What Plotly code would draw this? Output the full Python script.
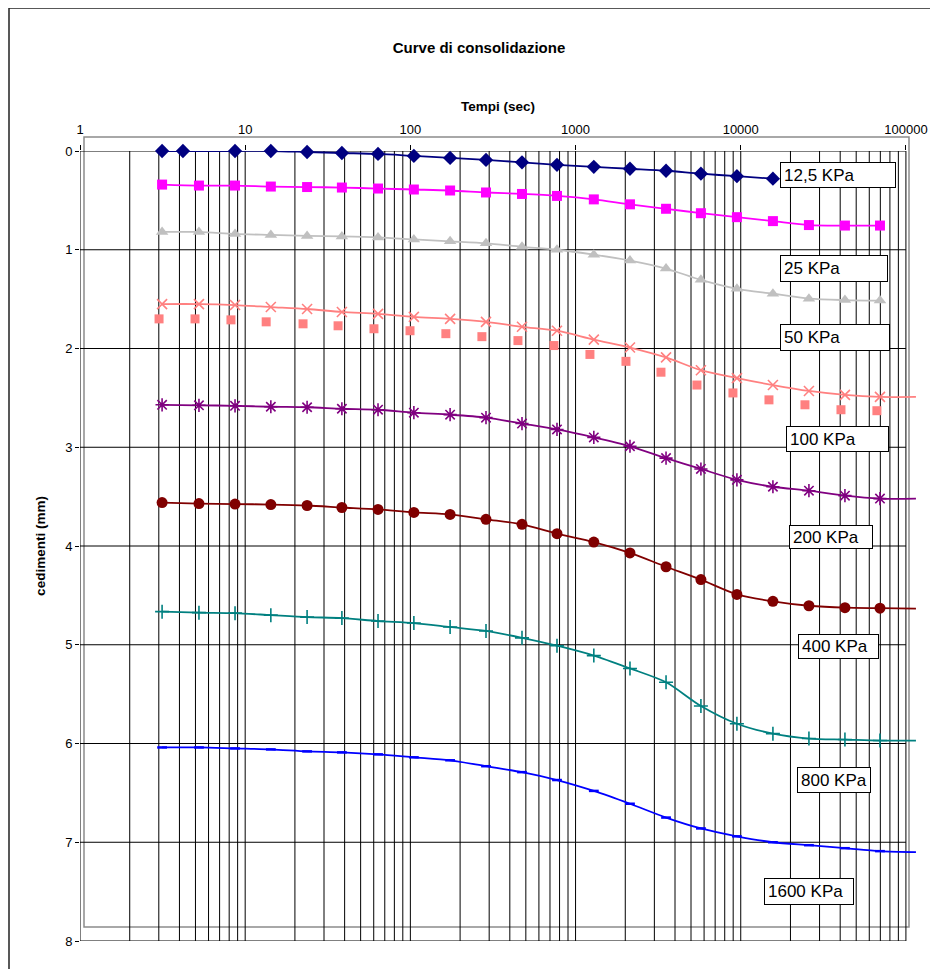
import plotly.graph_objects as go

# ---------------- data ----------------
# times (s) of the readings
T = [3.14, 5.25, 8.68, 14.3, 23.7, 38.5, 63.7, 105, 174, 287, 474, 772,
     1290, 2135, 3530, 5740, 9480, 15660, 25870, 42740, 69640]
T_12 = [3.14, 4.2, 8.68, 14.3, 23.7, 38.5, 63.7, 105, 174, 287, 474, 772,
        1290, 2135, 3530, 5740, 9480, 15660]
T_SQ = [3.01, 4.97, 8.2, 13.4, 22.4, 36.5, 60.2, 99.5, 164, 271, 448, 740,
        1222, 2019, 3289, 5430, 8970, 14820, 24480, 40440, 66730]
T_END = 115000

# settlements (mm)
S_12_5 = [0.0, 0.0, 0.0, 0.0, 0.01, 0.02, 0.03, 0.05, 0.07, 0.09, 0.115, 0.14,
          0.16, 0.18, 0.20, 0.23, 0.255, 0.28]
S_MAG = [0.34, 0.35, 0.35, 0.36, 0.365, 0.37, 0.38, 0.39, 0.40, 0.42, 0.435, 0.455,
         0.49, 0.54, 0.585, 0.63, 0.67, 0.71, 0.75, 0.755, 0.755]
S_GRAY = [0.82, 0.82, 0.84, 0.85, 0.86, 0.865, 0.875, 0.895, 0.915, 0.935, 0.97, 1.0,
          1.05, 1.11, 1.19, 1.305, 1.395, 1.445, 1.495, 1.51, 1.515]
S_X = [1.55, 1.55, 1.56, 1.58, 1.60, 1.63, 1.65, 1.68, 1.70, 1.73, 1.78, 1.82,
       1.91, 1.99, 2.09, 2.22, 2.30, 2.37, 2.43, 2.47, 2.49]
S_X_END = 2.49
S_SQ = [1.70, 1.70, 1.71, 1.73, 1.75, 1.77, 1.80, 1.82, 1.85, 1.88, 1.92, 1.97,
        2.06, 2.13, 2.24, 2.37, 2.45, 2.52, 2.57, 2.62, 2.63]
S_STAR = [2.57, 2.575, 2.58, 2.59, 2.595, 2.61, 2.62, 2.65, 2.67, 2.70, 2.76, 2.82,
          2.90, 2.99, 3.11, 3.22, 3.33, 3.40, 3.44, 3.49, 3.52]
S_STAR_END = 3.52
S_CIRC = [3.56, 3.57, 3.575, 3.58, 3.59, 3.61, 3.63, 3.66, 3.68, 3.73, 3.78, 3.875,
          3.96, 4.07, 4.21, 4.34, 4.49, 4.56, 4.605, 4.625, 4.63]
S_CIRC_END = 4.635
S_PLUS = [4.665, 4.675, 4.68, 4.70, 4.72, 4.73, 4.76, 4.78, 4.82, 4.86, 4.93, 5.01,
          5.11, 5.24, 5.38, 5.62, 5.80, 5.90, 5.95, 5.96, 5.97]
S_PLUS_END = 5.97
S_DASH = [6.04, 6.04, 6.05, 6.06, 6.08, 6.09, 6.11, 6.14, 6.17, 6.23, 6.29, 6.37,
          6.48, 6.61, 6.75, 6.86, 6.94, 7.0, 7.03, 7.06, 7.09]
S_DASH_END = 7.10

X_TICKS = [1, 10, 100, 1000, 10000, 100000]
X_TICKTEXT = ["1", "10", "100", "1000", "10000", "100000"]
Y_TICKS = [0, 1, 2, 3, 4, 5, 6, 7, 8]
LABELS = ["12,5 KPa", "25 KPa", "50 KPa", "100 KPa", "200 KPa", "400 KPa",
          "800 KPa", "1600 KPa"]

# ---------------- figure ----------------
W, H = 938, 969
OFF = 8                      # page body margin
PW, PH = 836, 790
ML, MT = 80 - OFF, 151 - OFF
MR, MB = W - ML - PW, H - MT - PH
FONT = "Arial, Liberation Sans, sans-serif"


def px_x(px):
    return (px - OFF - ML) / PW


def px_y(py):
    return (MT + PH - (py - OFF)) / PH


fig = go.Figure()

# grid lines (drawn through the axes)
grid_x = [m * 10 ** k for k in range(5) for m in range(1, 10)] + [100000]
gx, gy = [], []
for v in grid_x:
    gx += [v, v, None]
    gy += [0, 8, None]
for v in Y_TICKS:
    gx += [1, 100000, None]
    gy += [v, v, None]
fig.add_trace(go.Scatter(x=gx, y=gy, mode="lines",
                         line=dict(color="#000000", width=1),
                         hoverinfo="skip", showlegend=False))


def add_series(t, s, color, symbol, size, mline=0, end=None, width=1.8):
    lx = list(t) + ([T_END] if end is not None else [])
    ly = list(s) + ([end] if end is not None else [])
    fig.add_trace(go.Scatter(x=lx, y=ly, mode="lines",
                             line=dict(color=color, width=width, shape="spline", smoothing=0.8),
                             hoverinfo="skip", showlegend=False))
    fig.add_trace(go.Scatter(x=t, y=s, mode="markers", cliponaxis=False,
                             marker=dict(color=color, symbol=symbol, size=size,
                                         line=dict(color=color, width=mline)),
                             showlegend=False))


add_series(T_12, S_12_5, "#000080", "diamond", 11)
add_series(T, S_MAG, "#FF00FF", "square", 10)
add_series(T, S_GRAY, "#C0C0C0", "triangle-up", 11)
add_series(T, S_X, "#FF8080", "x-thin", 10, mline=1.6, end=S_X_END)
fig.add_trace(go.Scatter(x=T_SQ, y=S_SQ, mode="markers",
                         marker=dict(color="#FF8080", symbol="square", size=9),
                         showlegend=False))
add_series(T, S_STAR, "#800080", "asterisk", 11, mline=1.6, end=S_STAR_END)
add_series(T, S_CIRC, "#800000", "circle", 11, end=S_CIRC_END)
add_series(T, S_PLUS, "#008080", "cross-thin", 10, mline=1.6, end=S_PLUS_END)
add_series(T, S_DASH, "#0000FF", "line-ew", 7, mline=2.5, end=S_DASH_END)

# label boxes (left, top, right, bottom in screen pixels)
boxes = [(780, 162, 896, 188), (780, 255, 888, 282), (780, 324, 890, 351),
         (786, 426, 889, 452), (789, 525, 873, 549), (798, 634, 879, 659),
         (797, 767, 871, 793), (764, 878, 854, 905)]
for txt, (l, t, r, b) in zip(LABELS, boxes):
    pad = 3
    fig.add_annotation(xref="paper", yref="paper", x=px_x(l), y=px_y(t),
                       xanchor="left", yanchor="top", showarrow=False,
                       text=txt, align="left", valign="middle",
                       width=r - l - 2 * pad - 2, height=b - t - 2 * pad - 2,
                       borderpad=pad, borderwidth=1, bordercolor="#000000",
                       bgcolor="#FFFFFF",
                       font=dict(family=FONT, size=17, color="#000000"))

# plot-area border (grey) and chart border
fig.add_shape(type="rect", xref="paper", yref="paper", layer="below",
              x0=px_x(84), x1=px_x(909), y0=px_y(927), y1=px_y(137),
              line=dict(color="#8C8C8C", width=1.5))
fig.add_shape(type="rect", xref="paper", yref="paper", layer="above",
              x0=px_x(9), x1=px_x(960), y0=px_y(990), y1=px_y(8),
              line=dict(color="#222222", width=1.5))

fig.update_layout(
    width=W, height=H,
    margin=dict(l=ML, r=MR, t=MT, b=MB),
    paper_bgcolor="white", plot_bgcolor="white",
    showlegend=False,
    font=dict(family=FONT, size=13, color="#000000"),
    title=dict(text="<b>Curve di consolidazione</b>", x=(479 - OFF) / W, xanchor="center",
               y=1 - (47.5 - OFF) / H, yanchor="middle",
               font=dict(family=FONT, size=15, color="#000000")),
    xaxis=dict(type="log", side="top", range=[0, 5.061],
               tickvals=X_TICKS, ticktext=X_TICKTEXT,
               ticks="outside", ticklen=5, tickwidth=1, tickcolor="#000000",
               showgrid=False, zeroline=False, showline=False,
               ticklabelstandoff=6,
               tickfont=dict(family=FONT, size=13, color="#000000"),
               title=dict(text="<b>Tempi (sec)</b>", standoff=7,
                          font=dict(family=FONT, size=13.5, color="#000000"))),
    yaxis=dict(range=[8, 0], tickvals=Y_TICKS,
               ticks="outside", ticklen=4, tickwidth=1, tickcolor="#000000",
               showgrid=False, zeroline=False, showline=False,
               tickfont=dict(family=FONT, size=13, color="#000000"),
               title=dict(text="<b>cedimenti (mm)</b>", standoff=16,
                          font=dict(family=FONT, size=13.5, color="#000000"))),
)

fig.write_html("out.html")
